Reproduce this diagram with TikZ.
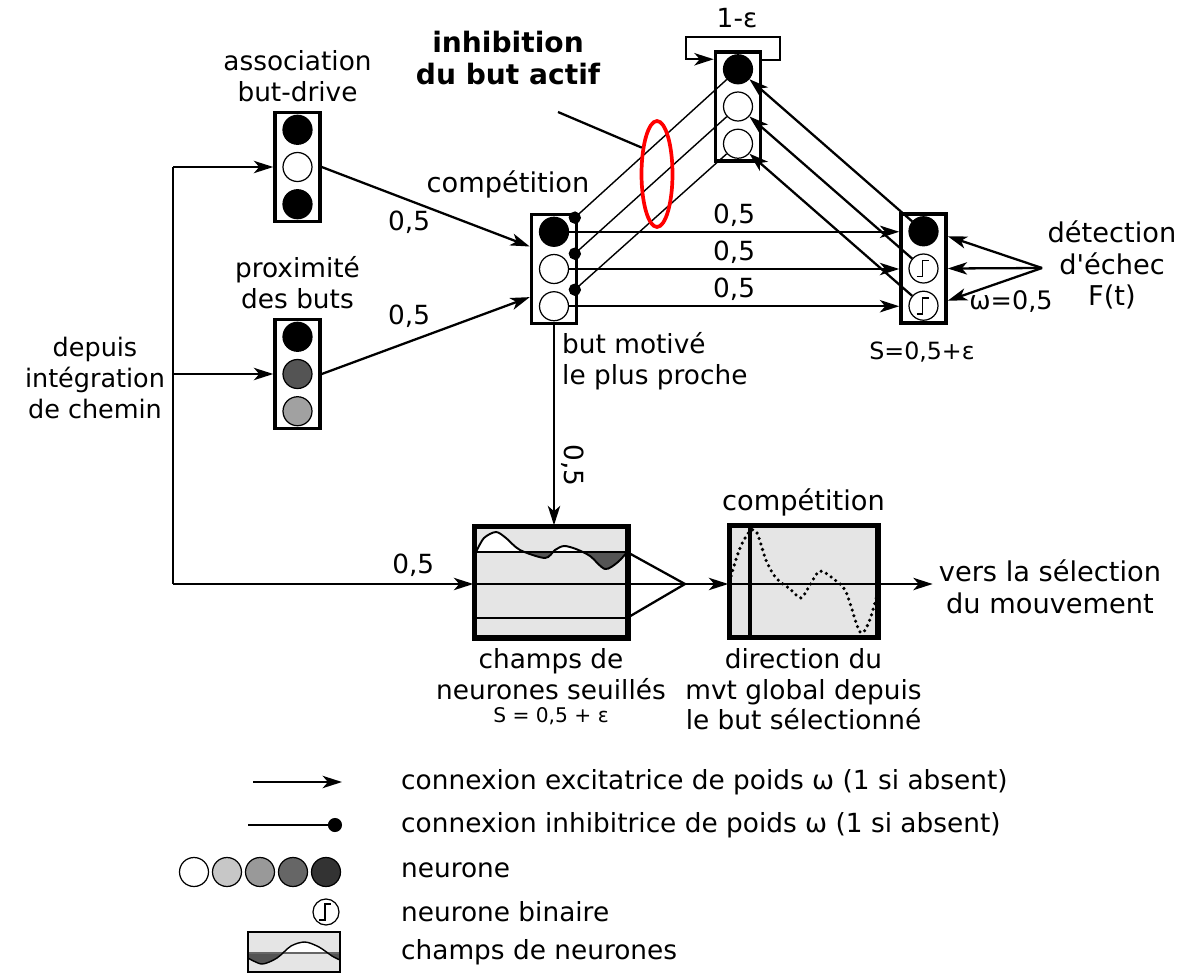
\documentclass[tikz,border=0pt]{standalone}
\usepackage{fontspec}
\setmainfont{DejaVu Sans}
\usetikzlibrary{arrows.meta,positioning,calc,shapes.geometric}

% marche d'un neurone binaire
\newcommand{\drawstep}[1]{\draw[line width=0.9pt] ($(#1)+(-7,8)$) -- ++(6,0) -- ++(0,-16) -- ++(6,0);}

\begin{document}
\begin{tikzpicture}[x=0.02cm, y=-0.02cm, >={Stealth[length=11pt,width=7pt,inset=3pt]},
    every node/.style={font=\fontsize{15}{17.5}\selectfont},
    big/.style={font=\fontsize{15.5}{18}\selectfont},
    col/.style={rectangle, draw, line width=2pt, minimum width=0.9cm, minimum height=2.18cm, inner sep=0pt},
    neuron/.style={circle, draw, line width=0.7pt, minimum size=0.58cm, inner sep=0pt},
    field/.style={rectangle, draw, line width=2pt, fill=black!10, minimum height=2.2cm, inner sep=0pt},
    wire/.style={line width=1.3pt},
    inh/.style={line width=0.8pt, -{Circle[length=7pt]}},
    lbl/.style={align=center}]

    \useasboundingbox (0,0) rectangle (1184,974);

    % Colonnes de neurones
    \node[col] (A) at (297.5,167) {};
    \node[neuron, fill=white] (a2) at (A) {};
    \node[neuron, fill=black, above=0.14cm of a2] (a1) {};
    \node[neuron, fill=black, below=0.14cm of a2] (a3) {};
    \node[lbl, above=0.05cm of A] (Atxt) {association\\but-drive};

    \node[col] (P) at (297.5,374) {};
    \node[neuron, fill=black!67] (p2) at (P) {};
    \node[neuron, fill=black, above=0.14cm of p2] (p1) {};
    \node[neuron, fill=black!37, below=0.14cm of p2] (p3) {};
    \node[lbl, above=0.05cm of P] (Ptxt) {proximité\\des buts};

    \node[col] (C) at (554,269) {};
    \node[neuron, fill=white] (c2) at (C) {};
    \node[neuron, fill=black, above=0.14cm of c2] (c1) {};
    \node[neuron, fill=white, below=0.14cm of c2] (c3) {};
    \node[big] (Ctxt) at (508,184) {compétition};
    \node[anchor=north west, align=left] (Cnote) at (556,326) {but motivé\\le plus proche};

    \node[col] (T) at (738,106.5) {};
    \node[neuron, fill=white] (t2) at (T) {};
    \node[neuron, fill=black, above=0.14cm of t2] (t1) {};
    \node[neuron, fill=white, below=0.14cm of t2] (t3) {};
    \node (Ttxt) at (737,18) {1-ε};

    \node[col] (R) at (923.5,268.5) {};
    \node[neuron, fill=white] (r2) at (R) {};
    \node[neuron, fill=black, above=0.14cm of r2] (r1) {};
    \node[neuron, fill=white, below=0.14cm of r2] (r3) {};
    \drawstep{r2}
    \drawstep{r3}
    \node[font=\fontsize{13.5}{15}\selectfont] (Rtxt) at (922,352) {S=0,5+ε};

    % Entrees
    \node[lbl, font=\fontsize{14.5}{17.5}\selectfont] (src) at (95,378) {depuis\\intégration\\de chemin};
    \coordinate (bustop) at (173,167);
    \coordinate (busbot) at (173,584);
    \draw[wire] (bustop) -- (busbot);
    \draw[wire,->] (bustop) -- (A.west);
    \draw[wire,->] (bustop |- P.west) -- (P.west);

    \draw[wire,->] (A.east) -- ($(C.west)!0.4!(C.north west)$) node[pos=0.42, below=2pt] {0,5};
    \draw[wire,->] (P.east) -- ($(C.west)!0.5!(C.south west)$) node[pos=0.42, above=4pt] {0,5};

    % Inhibition du but actif
    \coordinate (ci1) at ($(C.north east)+(-8,9)$);
    \coordinate (ci2) at ($(C.north east)+(-8,45)$);
    \coordinate (ci3) at ($(C.north east)+(-8,81)$);
    \draw[inh] (t1) -- (ci1);
    \draw[inh] (t2) -- (ci2);
    \draw[inh] (t3) -- (ci3);
    \node[ellipse, draw=red, line width=2.1pt, minimum width=0.62cm, minimum height=2.12cm, inner sep=0pt] (oval) at (657,174) {};
    \node[lbl, font=\fontsize{16}{18.5}\bfseries] (inhib) at (508,58) {inhibition\\du but actif};
    \coordinate (ptr) at (558,112);
    \draw[wire] (ptr) -- (oval.120);

    \draw[wire,->] ($(T.north east)+(0,10)$) -- ++(18,0) -- ++(0,-23) -| ($(T.north west)+(-28,9)$) -- ($(T.north west)+(0,9)$);

    % Vers le detecteur d'echec
    \draw[wire,->] (c1) -- (c1 -| R.west) node[midway, above=-1pt] {0,5};
    \draw[wire,->] (c2) -- (c2 -| R.west) node[midway, above=-1pt] {0,5};
    \draw[wire,->] (c3) -- (c3 -| R.west) node[midway, above=-1pt] {0,5};
    \draw[wire,->] (r1) -- (t1);
    \draw[wire,->] (r2) -- (t2);
    \draw[wire,->] (r3) -- (t3);

    \node[lbl, big] (fail) at (1112,265) {détection\\d\textquotesingle échec\\F(t)};
    \coordinate (fsrc) at (1042,268);
    \draw[wire,->] (fsrc) -- ($(R.east |- r1)+(0,5)$);
    \draw[wire,->] (fsrc) -- (R.east |- r2);
    \draw[wire,->] (fsrc) -- ($(R.east |- r3)+(0,-5)$);
    \node[font=\fontsize{14.5}{16}\selectfont] (omega) at (1011,302) {ω=0,5};

    % Champs de neurones seuilles
    \node[field, minimum width=3.04cm] (F) at (551,582) {};
    \begin{scope}
        \clip (476,528) rectangle (627,552);
        \fill[white] plot[smooth] coordinates {(476,552) (484,538) (496,532) (506,538) (520,550) (545,558) (555,550) (564,546) (576,549) (590,556) (605,569) (618,562) (627,552)} -- cycle;
    \end{scope}
    \begin{scope}
        \clip (476,552) rectangle (627,637);
        \fill[black!67] plot[smooth] coordinates {(476,552) (484,538) (496,532) (506,538) (520,550) (545,558) (555,550) (564,546) (576,549) (590,556) (605,569) (618,562) (627,552)} -- cycle;
    \end{scope}
    \draw[line width=1.1pt] plot[smooth] coordinates {(476,552) (484,538) (496,532) (506,538) (520,550) (545,558) (555,550) (564,546) (576,549) (590,556) (605,569) (618,562) (627,552)};
    \draw[line width=1.1pt] (476,552) -- (627,552);
    \draw[line width=1.1pt] (476,618) -- (627,618);
    \draw[line width=2pt] (F.north west) rectangle (F.south east);
    \node[lbl, below=0.08cm of F] (Ftxt) {champs de\\neurones seuillés};
    \node[below=-0.1cm of Ftxt, font=\fontsize{11.5}{13}\selectfont] (Fthr) {S = 0,5 + ε};

    \draw[wire,->] (C.south) -- (C.south |- F.north) node[pos=0.7, right, rotate=-90, anchor=south] {0,5};
    \draw[wire,->] (busbot) -- (F.west |- busbot) node[pos=0.8, above] {0,5};
    \coordinate (apex) at (685,584);
    \draw[line width=1.1pt] (F.west |- apex) -- (apex);
    \draw[wire] (627,552) -- (apex) -- (627,618);

    % Competition sur le champ
    \node[field, minimum width=2.94cm] (G) at (803.5,581.5) {};
    \draw[line width=2pt] (750,528) -- (750,636);
    \draw[line width=2pt, dash pattern=on 0pt off 3.3pt, line cap=round] plot[smooth] coordinates {(731,576) (740,548) (750,531) (757,533) (766,560) (776,578) (790,589) (801,598) (810,585) (820,571) (835,580) (846,592) (860,632) (869,622) (877,595)};
    \draw[line width=1.1pt] (G.west |- apex) -- (G.east |- apex);
    \draw[line width=2pt] (G.north west) rectangle (G.south east);
    \draw[wire,->] (apex) -- (G.west |- apex);
    \node[big, above=0.05cm of G] (Gtxt) {compétition};
    \node[lbl, below=0.08cm of G] (Gdir) {direction du\\mvt global depuis\\le but sélectionné};
    \node[lbl, big] (out) at (1050,587) {vers la sélection\\du mouvement};
    \draw[wire,->] (G.east |- apex) -- (out.west |- apex);

    % Legende
    \coordinate (le1) at (253,782);
    \coordinate (le2) at (342,782);
    \draw[wire,->] (le1) -- (le2);
    \node[anchor=west] (lt1) at (395,782) {connexion excitatrice de poids ω (1 si absent)};
    \coordinate (li1) at (248,825);
    \coordinate (li2) at (342,825);
    \draw[line width=0.8pt, -{Circle[length=8pt]}] (li1) -- (li2);
    \node[anchor=west] (lt2) at (395,825) {connexion inhibitrice de poids ω (1 si absent)};
    \foreach \g [count=\i] in {0,22,40,60,80}
        \node[neuron, fill=black!\g] (lg\i) at (161+33*\i,872) {};
    \node[anchor=west] (lt3) at (395,870) {neurone};
    \node[neuron, minimum size=0.52cm] (lb) at (326,912) {};
    \drawstep{lb}
    \node[anchor=west] (lt4) at (395,912) {neurone binaire};
    \fill[black!10] (248,932) rectangle (340,972);
    \begin{scope}
        \clip (248,932) rectangle (340,953);
        \fill[white] plot[smooth] coordinates {(248,958) (262,964) (277,958) (291,946) (305,942) (319,947) (332,956) (340,960)} -- cycle;
    \end{scope}
    \begin{scope}
        \clip (248,953) rectangle (340,972);
        \fill[black!67] plot[smooth] coordinates {(248,958) (262,964) (277,958) (291,946) (305,942) (319,947) (332,956) (340,960)} -- (340,953) -- (248,953) -- cycle;
    \end{scope}
    \draw[line width=0.7pt, black!60] (248,953) -- (340,953);
    \draw[line width=0.8pt] plot[smooth] coordinates {(248,958) (262,964) (277,958) (291,946) (305,942) (319,947) (332,956) (340,960)};
    \draw[line width=1.2pt] (248,932) rectangle (340,972);
    \node[anchor=west] (lt5) at (395,952) {champs de neurones};
\end{tikzpicture}
\end{document}
